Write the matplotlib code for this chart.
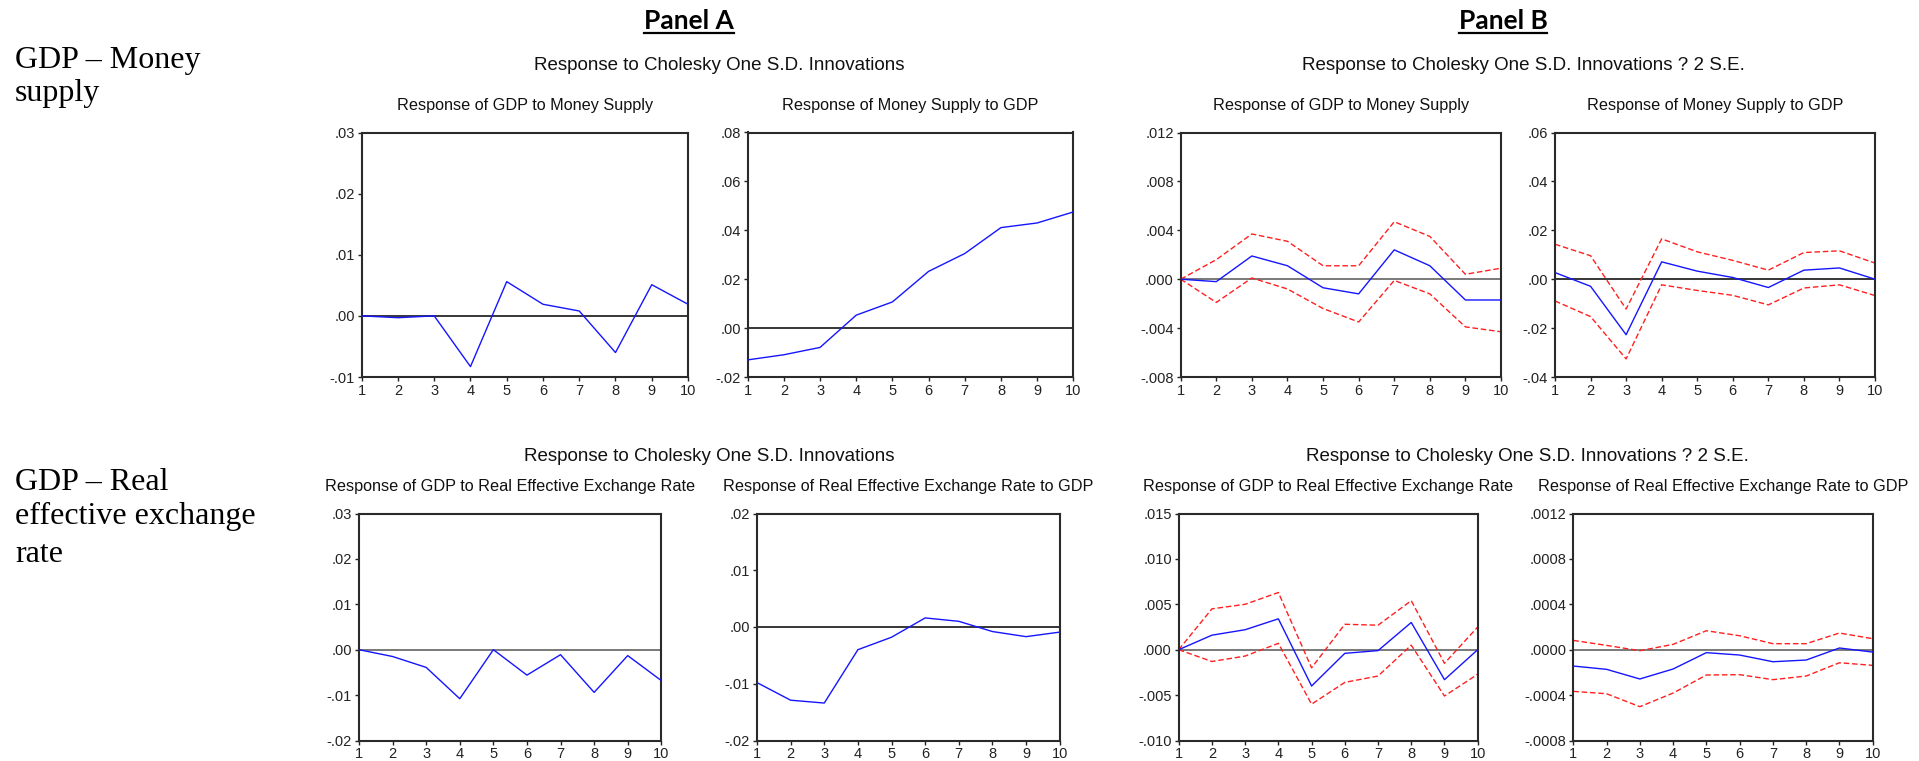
import numpy as np
import matplotlib.pyplot as plt
from matplotlib.lines import Line2D

plt.rcParams['font.family'] = ['Liberation Sans', 'DejaVu Sans']

W, H = 1919, 761

periods = list(range(1, 11))

# Panel A: Cholesky one S.D. responses
gdp_to_money = [0.0, -0.0003, 0.0, -0.0083, 0.0056, 0.0019, 0.0008, -0.0060, 0.0051, 0.0019]
money_to_gdp = [-0.0130, -0.0109, -0.0079, 0.0053, 0.0107, 0.0232, 0.0305, 0.0411, 0.0430, 0.0475]
gdp_to_reer = [0.0, -0.0015, -0.0039, -0.0108, 0.0, -0.0056, -0.0011, -0.0094, -0.0013, -0.0068]
reer_to_gdp = [-0.0098, -0.0129, -0.0134, -0.0040, -0.0018, 0.0016, 0.0010, -0.0008, -0.0017, -0.0009]

# Panel B: responses with +/- 2 S.E. bands
gdp_to_money_b = [0.0, -0.0002, 0.0019, 0.0011, -0.0007, -0.0012, 0.0024, 0.0011, -0.0017, -0.0017]
gdp_to_money_hi = [0.0, 0.0016, 0.0037, 0.0031, 0.0011, 0.0011, 0.0047, 0.0035, 0.0004, 0.0009]
gdp_to_money_lo = [0.0, -0.0019, 0.0001, -0.0008, -0.0024, -0.0035, -0.0001, -0.0012, -0.0039, -0.0043]

money_to_gdp_b = [0.0027, -0.0029, -0.0227, 0.0071, 0.0033, 0.0007, -0.0034, 0.0037, 0.0046, 0.0]
money_to_gdp_hi = [0.0143, 0.0096, -0.0122, 0.0165, 0.0112, 0.0077, 0.0037, 0.0109, 0.0116, 0.0066]
money_to_gdp_lo = [-0.0089, -0.0153, -0.0326, -0.0023, -0.0046, -0.0066, -0.0105, -0.0036, -0.0023, -0.0067]

gdp_to_reer_b = [0.0, 0.0016, 0.0022, 0.0034, -0.0040, -0.0004, -0.0001, 0.0030, -0.0033, 0.0]
gdp_to_reer_hi = [0.0, 0.0045, 0.0050, 0.0063, -0.0020, 0.0028, 0.0027, 0.0054, -0.0015, 0.0025]
gdp_to_reer_lo = [0.0, -0.0013, -0.0007, 0.0007, -0.0060, -0.0036, -0.0029, 0.0005, -0.0051, -0.0027]

reer_to_gdp_b = [-0.000144, -0.000173, -0.000258, -0.000170, -0.000026, -0.000047, -0.000106, -0.000091, 0.000015, -0.000021]
reer_to_gdp_hi = [0.000082, 0.000038, -0.000009, 0.000047, 0.000167, 0.000123, 0.000053, 0.000053, 0.000147, 0.000097]
reer_to_gdp_lo = [-0.000367, -0.000388, -0.000502, -0.000382, -0.000223, -0.000220, -0.000264, -0.000232, -0.000115, -0.000138]

# y tick labels per chart, EViews style
ticks_a1 = ['-.01', '.00', '.01', '.02', '.03']
ticks_a2 = ['-.02', '.00', '.02', '.04', '.06', '.08']
ticks_b1 = ['-.008', '-.004', '.000', '.004', '.008', '.012']
ticks_b2 = ['-.04', '-.02', '.00', '.02', '.04', '.06']
ticks_a3 = ['-.02', '-.01', '.00', '.01', '.02', '.03']
ticks_a4 = ['-.02', '-.01', '.00', '.01', '.02']
ticks_b3 = ['-.010', '-.005', '.000', '.005', '.010', '.015']
ticks_b4 = ['-.0008', '-.0004', '.0000', '.0004', '.0008', '.0012']


def make_axes(fig, left, top, right, bottom):
    return fig.add_axes([left / W, 1 - bottom / H, (right - left) / W, (bottom - top) / H])


def draw_irf(ax, title, ylabels, resp, hi=None, lo=None, zero_color='black'):
    yt = [float(s) for s in ylabels]
    ax.axhline(0, color=zero_color, lw=1.1, zorder=1)
    if hi is not None:
        ax.plot(periods, hi, color='#ff2020', lw=1.0, ls=(0, (4, 2)), zorder=2)
        ax.plot(periods, lo, color='#ff2020', lw=1.0, ls=(0, (4, 2)), zorder=2)
    ax.plot(periods, resp, color='#1515ff', lw=1.0, zorder=3)
    ax.set_xlim(1, 10)
    ax.set_ylim(yt[0], yt[-1])
    ax.set_xticks(periods)
    ax.set_xticklabels([str(p) for p in periods])
    ax.set_yticks(yt)
    ax.set_yticklabels(ylabels)
    ax.tick_params(direction='out', length=3, width=1, labelsize=10.5, pad=2, colors='#222222')
    for sp in ax.spines.values():
        sp.set_linewidth(1.5)
        sp.set_color('#2a2a2a')
    ax.set_title(title, fontsize=11.7, pad=16, color='#111111')


fig = plt.figure(figsize=(W / 100, H / 100), dpi=100)

ax = make_axes(fig, 361.7, 132.5, 688, 377)
draw_irf(ax, 'Response of GDP to Money Supply', ticks_a1, gdp_to_money)
ax = make_axes(fig, 747.7, 132.5, 1073.3, 377)
draw_irf(ax, 'Response of Money Supply to GDP', ticks_a2, money_to_gdp)
ax = make_axes(fig, 1180.7, 132.5, 1501, 377)
draw_irf(ax, 'Response of GDP to Money Supply', ticks_b1, gdp_to_money_b,
         gdp_to_money_hi, gdp_to_money_lo, zero_color='#555555')
ax = make_axes(fig, 1555, 132.5, 1875, 377)
draw_irf(ax, 'Response of Money Supply to GDP', ticks_b2, money_to_gdp_b,
         money_to_gdp_hi, money_to_gdp_lo)

ax = make_axes(fig, 359, 513.5, 661.3, 740.5)
draw_irf(ax, 'Response of GDP to Real Effective Exchange Rate', ticks_a3, gdp_to_reer,
         zero_color='#555555')
ax = make_axes(fig, 757, 513.5, 1059.7, 740.5)
draw_irf(ax, 'Response of Real Effective Exchange Rate to GDP', ticks_a4, reer_to_gdp)
ax = make_axes(fig, 1178.7, 513.5, 1477.7, 740.5)
draw_irf(ax, 'Response of GDP to Real Effective Exchange Rate', ticks_b3, gdp_to_reer_b,
         gdp_to_reer_hi, gdp_to_reer_lo, zero_color='#555555')
ax = make_axes(fig, 1573.3, 513.5, 1872.7, 740.5)
draw_irf(ax, 'Response of Real Effective Exchange Rate to GDP', ticks_b4, reer_to_gdp_b,
         reer_to_gdp_hi, reer_to_gdp_lo, zero_color='#555555')

# group headings above each pair of charts
sup_a = 'Response to Cholesky One S.D. Innovations'
sup_b = 'Response to Cholesky One S.D. Innovations ? 2 S.E.'
for x, y, s in [(719, 70, sup_a), (1523, 70, sup_b), (709, 461, sup_a), (1527, 461, sup_b)]:
    fig.text(x / W, 1 - y / H, s, ha='center', va='baseline', fontsize=13.5, color='#111111')

# panel labels, bold and underlined
panel_texts = []
for x, s in [(689, 'Panel A'), (1503, 'Panel B')]:
    t = fig.text(x / W, 1 - 29 / H, s, ha='center', va='baseline', fontsize=19,
                 fontweight='bold', family=['Lato', 'DejaVu Sans'])
    panel_texts.append(t)

fig.canvas.draw()
renderer = fig.canvas.get_renderer()
for t in panel_texts:
    bb = t.get_window_extent(renderer)
    yline = 1 - 32.5 / H
    fig.add_artist(Line2D([bb.x0 / W, bb.x1 / W], [yline, yline], color='black', lw=1.6,
                          transform=fig.transFigure))

# row labels on the left
row_labels = [(68, 'GDP \u2013 Money'), (101, 'supply'),
              (490, 'GDP \u2013 Real'), (524, 'effective exchange'), (562, 'rate')]
for y, s in row_labels:
    fig.text(15 / W, 1 - y / H, s, ha='left', va='baseline', fontsize=23,
             family=['Liberation Serif', 'DejaVu Serif'])

fig.savefig('out.png', dpi=100)
